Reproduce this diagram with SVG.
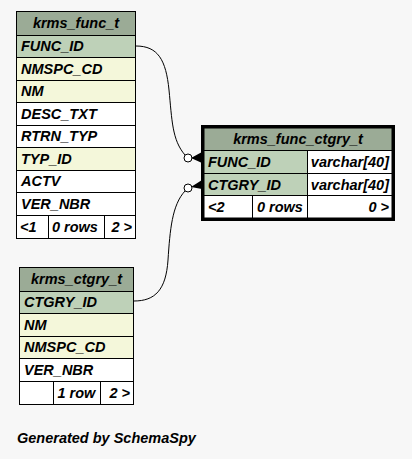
<svg xmlns="http://www.w3.org/2000/svg" width="412" height="459" viewBox="0 0 412 459">
<style>
text{font-family:"Liberation Sans",Arial,Helvetica,sans-serif;font-weight:bold;font-style:italic;font-size:14.5px;fill:#000}
.c{stroke:#000;stroke-width:1}
.h{fill:#9bab96}
.pk{fill:#bed1b8}
.ix{fill:#f4f7da}
.w{fill:#ffffff}
.mid{text-anchor:middle}
.end{text-anchor:end}
.conn{fill:none;stroke:#000;stroke-width:1}
</style>
<rect x="0" y="0" width="412" height="459" fill="#f7f7f7"/>
<g id="connectors">
<path class="conn" d="M136,46 C158,46 166,60 169,90 S172,140 185,155"/>
<circle cx="188" cy="158" r="4" fill="#fff" stroke="#000"/>
<polygon points="191,158 202,152 202,163" fill="#000"/>
<path class="conn" d="M134,301 C155,301 166,290 168,260 S172,205 185,191"/>
<circle cx="188" cy="188" r="4" fill="#fff" stroke="#000"/>
<polygon points="191,187 202,180 202,189" fill="#000"/>
</g>
<g id="krms_func_t">
<rect class="c h" x="16.5" y="11.5" width="119" height="24"/>
<rect class="c pk" x="16.5" y="35.5" width="119" height="22"/>
<rect class="c ix" x="16.5" y="57.5" width="119" height="23"/>
<rect class="c ix" x="16.5" y="80.5" width="119" height="22"/>
<rect class="c w" x="16.5" y="102.5" width="119" height="23"/>
<rect class="c w" x="16.5" y="125.5" width="119" height="22"/>
<rect class="c ix" x="16.5" y="147.5" width="119" height="23"/>
<rect class="c w" x="16.5" y="170.5" width="119" height="22"/>
<rect class="c w" x="16.5" y="192.5" width="119" height="23"/>
<rect class="c w" x="16.5" y="215.5" width="32" height="23"/>
<rect class="c w" x="48.5" y="215.5" width="56" height="23"/>
<rect class="c w" x="104.5" y="215.5" width="31" height="23"/>
<text class="mid" x="76" y="28">krms_func_t</text>
<text x="21" y="51">FUNC_ID</text>
<text x="21" y="73.5">NMSPC_CD</text>
<text x="21" y="96">NM</text>
<text x="21" y="118.5">DESC_TXT</text>
<text x="21" y="141">RTRN_TYP</text>
<text x="21" y="163.5">TYP_ID</text>
<text x="21" y="186">ACTV</text>
<text x="21" y="208.5">VER_NBR</text>
<text x="20" y="231.5">&lt;1</text>
<text x="52" y="231.5">0 rows</text>
<text class="end" x="132" y="231.5">2 &gt;</text>
</g>
<g id="krms_func_ctgry_t">
<rect x="202.5" y="126.5" width="191" height="93" fill="#fff" stroke="#000" stroke-width="3"/>
<rect class="c h" x="204" y="128" width="188" height="22.5"/>
<rect class="c pk" x="204" y="150.5" width="103.5" height="23"/>
<rect class="c w" x="307.5" y="150.5" width="84.5" height="23"/>
<rect class="c pk" x="204" y="173.5" width="103.5" height="22"/>
<rect class="c w" x="307.5" y="173.5" width="84.5" height="22"/>
<rect class="c w" x="204" y="195.5" width="48.5" height="22.5"/>
<rect class="c w" x="252.5" y="195.5" width="55" height="22.5"/>
<rect class="c w" x="307.5" y="195.5" width="84.5" height="22.5"/>
<text class="mid" x="298" y="144">krms_func_ctgry_t</text>
<text x="208" y="167">FUNC_ID</text>
<text class="end" x="389" y="167">varchar[40]</text>
<text x="208" y="190">CTGRY_ID</text>
<text class="end" x="389" y="190">varchar[40]</text>
<text x="208" y="212">&lt;2</text>
<text x="257" y="212">0 rows</text>
<text class="end" x="389" y="212">0 &gt;</text>
</g>
<g id="krms_ctgry_t">
<rect class="c h" x="19.5" y="267.5" width="114" height="24"/>
<rect class="c pk" x="19.5" y="291.5" width="114" height="22"/>
<rect class="c ix" x="19.5" y="313.5" width="114" height="23"/>
<rect class="c ix" x="19.5" y="336.5" width="114" height="22"/>
<rect class="c w" x="19.5" y="358.5" width="114" height="23"/>
<rect class="c w" x="19.5" y="381.5" width="34" height="23"/>
<rect class="c w" x="53.5" y="381.5" width="47" height="23"/>
<rect class="c w" x="100.5" y="381.5" width="33" height="23"/>
<text class="mid" x="76.5" y="284">krms_ctgry_t</text>
<text x="24" y="307">CTGRY_ID</text>
<text x="24" y="329.5">NM</text>
<text x="24" y="352">NMSPC_CD</text>
<text x="24" y="374.5">VER_NBR</text>
<text x="57.5" y="397.5">1 row</text>
<text class="end" x="130" y="397.5">2 &gt;</text>
</g>
<text x="17" y="443">Generated by SchemaSpy</text>
</svg>
